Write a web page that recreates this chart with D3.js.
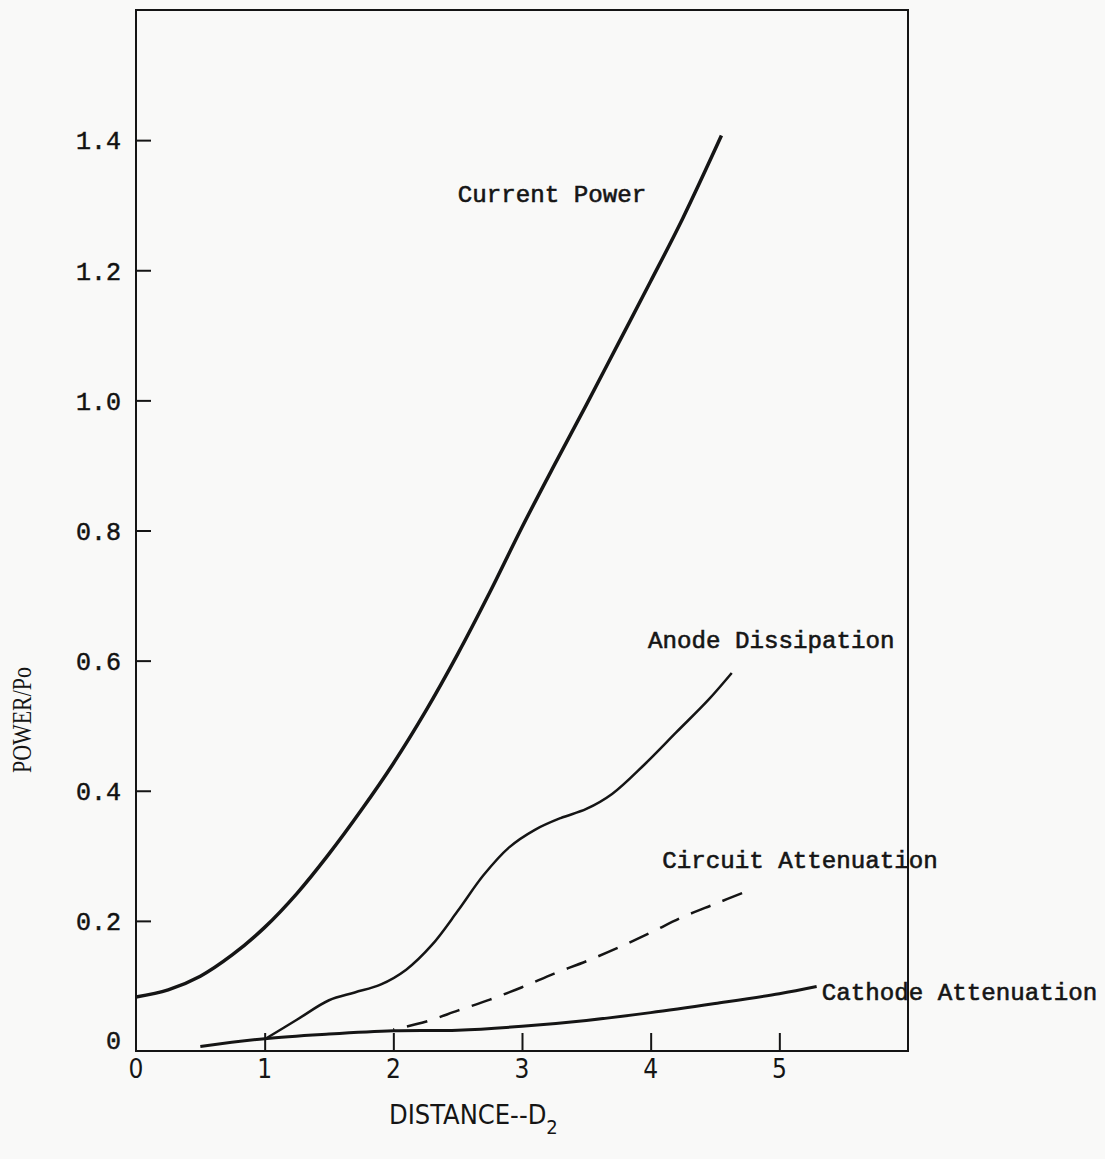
<!DOCTYPE html>
<html>
<head>
<meta charset="utf-8">
<script src="https://cdn.jsdelivr.net/npm/d3@7"></script>
<style>
  body { margin: 0; background: #f9f9f8; }
  svg { display: block; }
  .tick text { fill: #111; }
</style>
</head>
<body>
<figure id="chart" style="margin:0"></figure>
<script>
// values
const xTicks = [1, 2, 3, 4, 5];
const xTickLabels = ["0", "1", "2", "3", "4", "5"];
const yTicks = [0.2, 0.4, 0.6, 0.8, 1.0, 1.2, 1.4];

const currentX = [0, 0.25, 0.5, 0.75, 1.0, 1.25, 1.5, 1.75, 2.0, 2.25, 2.5, 2.75, 3.0, 3.25, 3.5, 3.75, 4.0, 4.25, 4.55];
const currentY = [0.083, 0.094, 0.115, 0.148, 0.190, 0.242, 0.303, 0.370, 0.442, 0.522, 0.610, 0.705, 0.805, 0.900, 0.993, 1.088, 1.183, 1.280, 1.407];

const anodeX = [1.0, 1.25, 1.5, 1.7, 1.9, 2.1, 2.3, 2.5, 2.7, 2.9, 3.1, 3.3, 3.5, 3.7, 3.95, 4.2, 4.45, 4.63];
const anodeY = [0.018, 0.048, 0.078, 0.090, 0.102, 0.125, 0.163, 0.215, 0.270, 0.313, 0.340, 0.358, 0.372, 0.395, 0.440, 0.490, 0.540, 0.581];

const circuitX = [2.0, 2.25, 2.5, 2.75, 3.0, 3.25, 3.5, 3.75, 4.0, 4.25, 4.5, 4.74];
const circuitY = [0.033, 0.045, 0.062, 0.079, 0.098, 0.119, 0.138, 0.159, 0.182, 0.206, 0.226, 0.245];

const cathodeX = [0.5, 1.0, 1.5, 2.0, 2.5, 3.0, 3.5, 4.0, 4.5, 5.0, 5.29];
const cathodeY = [0.007, 0.019, 0.026, 0.031, 0.032, 0.038, 0.047, 0.059, 0.073, 0.088, 0.099];

const seriesNames = ["Current Power", "Anode Dissipation", "Circuit Attenuation", "Cathode Attenuation"];

const W = 1105, H = 1159;
const margin = { top: 10, right: 197, bottom: 108, left: 136 };

const svg = d3.select("#chart").append("svg")
  .attr("width", W).attr("height", H);

const x = d3.scaleLinear().domain([0, 6]).range([margin.left, W - margin.right]);
const y = d3.scaleLinear().domain([0, 1.6]).range([H - margin.bottom, margin.top]);

const ink = "#151515";
const mono = "'Liberation Mono', 'DejaVu Sans Mono', monospace";
const narrow = "'Liberation Sans Narrow', 'DejaVu Sans Condensed', 'Liberation Sans', sans-serif";

// frame
svg.append("rect")
  .attr("x", x(0)).attr("y", y(1.6))
  .attr("width", x(6) - x(0)).attr("height", y(0) - y(1.6))
  .attr("fill", "none").attr("stroke", ink).attr("stroke-width", 2);

// y axis, ticks point inward
const yAxis = svg.append("g")
  .attr("transform", "translate(" + x(0) + ",0)")
  .call(d3.axisLeft(y).tickValues(yTicks).tickSize(-15).tickPadding(15)
    .tickFormat(d3.format(".1f")));
yAxis.select(".domain").remove();
yAxis.selectAll("line").attr("stroke", ink).attr("stroke-width", 2);
yAxis.selectAll("text")
  .style("font-family", mono).style("font-size", "25px").attr("dy", "0.35em")
  .attr("stroke", ink).attr("stroke-width", 0.5);

// separate zero label on y
svg.append("text")
  .attr("x", x(0) - 15).attr("y", y(0) - 2)
  .attr("text-anchor", "end")
  .style("font-family", mono).style("font-size", "25px").attr("fill", ink)
  .attr("stroke", ink).attr("stroke-width", 0.5)
  .text("0");

// x axis, ticks point up
const xAxis = svg.append("g")
  .attr("transform", "translate(0," + y(0) + ")")
  .call(d3.axisBottom(x).tickValues(xTicks).tickSize(-18).tickFormat(""));
xAxis.select(".domain").remove();
xAxis.selectAll("line").attr("stroke", ink).attr("stroke-width", 2);

svg.append("g").selectAll("text")
  .data(xTickLabels)
  .enter().append("text")
  .attr("x", (d, i) => x(i))
  .attr("y", y(0) + 27)
  .attr("text-anchor", "middle")
  .style("font-family", narrow).style("font-size", "26px").attr("fill", ink)
  .text(d => d);

// lines
const line = d3.line()
  .x(d => x(d[0]))
  .y(d => y(d[1]))
  .curve(d3.curveCatmullRom.alpha(0.5));

const zip = (a, b) => a.map((v, i) => [v, b[i]]);

svg.append("path").datum(zip(currentX, currentY))
  .attr("d", line).attr("fill", "none").attr("stroke", ink).attr("stroke-width", 3.5);
svg.append("path").datum(zip(anodeX, anodeY))
  .attr("d", line).attr("fill", "none").attr("stroke", ink).attr("stroke-width", 2.5);
svg.append("path").datum(zip(circuitX, circuitY))
  .attr("d", line).attr("fill", "none").attr("stroke", ink).attr("stroke-width", 2.5)
  .attr("stroke-dasharray", "21,13").attr("stroke-dashoffset", -14);
svg.append("path").datum(zip(cathodeX, cathodeY))
  .attr("d", line).attr("fill", "none").attr("stroke", ink).attr("stroke-width", 3);

// curve labels
const labelPos = [
  { x: 2.5, y: 1.305 },
  { x: 3.98, y: 0.619 },
  { x: 4.09, y: 0.281 },
  { x: 5.33, y: 0.078 }
];
svg.append("g").selectAll("text")
  .data(seriesNames)
  .enter().append("text")
  .attr("x", (d, i) => x(labelPos[i].x))
  .attr("y", (d, i) => y(labelPos[i].y))
  .attr("textLength", d => d.length * 14.5)
  .attr("lengthAdjust", "spacingAndGlyphs")
  .style("font-family", mono).style("font-size", "24px").attr("fill", ink)
  .attr("stroke", ink).attr("stroke-width", 0.6)
  .text(d => d);

// axis titles
const xt = svg.append("text")
  .attr("x", 389).attr("y", 1124)
  .style("font-family", narrow).style("font-size", "27px").attr("fill", ink);
xt.append("tspan").text("DISTANCE--D");
xt.append("tspan").attr("dy", 10).style("font-size", "20px").text("2");

svg.append("text")
  .attr("transform", "translate(31,720) rotate(-90)")
  .attr("text-anchor", "middle")
  .attr("textLength", 106).attr("lengthAdjust", "spacingAndGlyphs")
  .style("font-family", "'Liberation Serif', 'DejaVu Serif', serif").style("font-size", "27px")
  .attr("fill", ink)
  .text("POWER/Po");
</script>
</body>
</html>
